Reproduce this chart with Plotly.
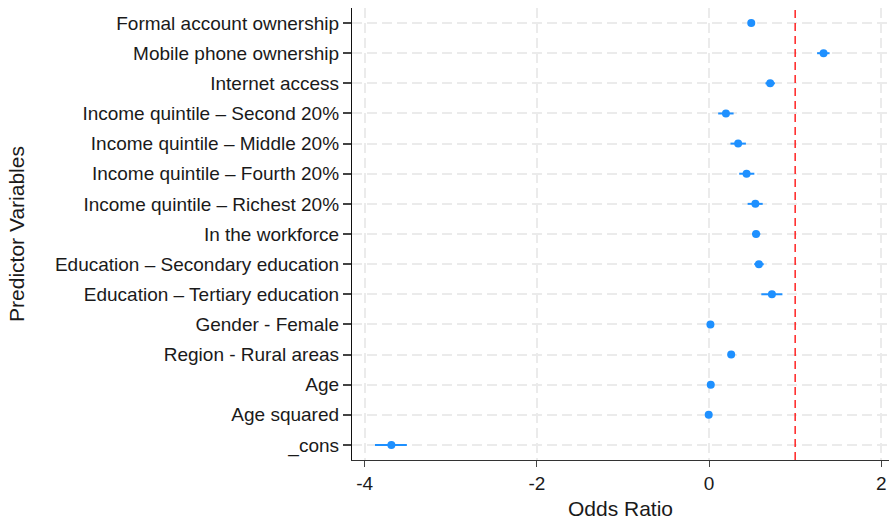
import plotly.graph_objects as go

variables = [
    "Formal account ownership",
    "Mobile phone ownership",
    "Internet access",
    "Income quintile – Second 20%",
    "Income quintile – Middle 20%",
    "Income quintile – Fourth 20%",
    "Income quintile – Richest 20%",
    "In the workforce",
    "Education – Secondary education",
    "Education – Tertiary education",
    "Gender - Female",
    "Region - Rural areas",
    "Age",
    "Age squared",
    "_cons",
]
estimate = [0.49, 1.33, 0.71, 0.196, 0.338, 0.436, 0.538, 0.546, 0.579, 0.73, 0.016, 0.257, 0.02, -0.004, -3.69]
ci_low = [0.46, 1.255, 0.655, 0.106, 0.249, 0.35, 0.448, 0.50, 0.525, 0.607, 0.0, 0.227, 0.012, -0.008, -3.88]
ci_high = [0.52, 1.40, 0.765, 0.285, 0.428, 0.526, 0.623, 0.595, 0.635, 0.852, 0.032, 0.287, 0.028, 0.0, -3.51]
x_ticks = [-4, -2, 0, 2]
ref_line = 1

err_plus = [h - e for h, e in zip(ci_high, estimate)]
err_minus = [e - l for e, l in zip(estimate, ci_low)]

blue = "#1E90FF"
font_family = "Liberation Sans, Arial, sans-serif"

fig = go.Figure()
fig.add_trace(go.Scatter(
    x=estimate,
    y=variables,
    mode="markers",
    marker=dict(color=blue, size=8),
    error_x=dict(type="data", array=err_plus, arrayminus=err_minus,
                 color=blue, thickness=2, width=0),
    showlegend=False,
))

fig.add_shape(type="line", xref="x", yref="paper", x0=ref_line, x1=ref_line,
              y0=0, y1=1, line=dict(color="red", width=1.3, dash="8px,5px"))

grid_dash = "10px,5px"
fig.update_layout(
    width=889, height=521,
    margin=dict(l=352, r=0, t=8, b=61),
    paper_bgcolor="white", plot_bgcolor="white",
    font=dict(family=font_family, color="#1a1a1a", size=19),
    xaxis=dict(
        range=[-4.147, 2.09],
        tickvals=x_ticks,
        ticktext=[str(v) for v in x_ticks],
        showgrid=True, gridcolor="#ebebeb", gridwidth=1.5, griddash=grid_dash,
        zeroline=False,
        showline=True, linecolor="#333333", linewidth=1.3,
        ticks="outside", ticklen=6, tickcolor="#444444", tickwidth=1.3,
        tickfont=dict(size=19, color="#1a1a1a"),
        title=dict(text="Odds Ratio", font=dict(size=21, color="#1a1a1a"), standoff=8),
    ),
    yaxis=dict(
        type="category",
        categoryorder="array", categoryarray=variables,
        range=[len(variables) - 0.5, -0.5],
        showgrid=True, gridcolor="#ebebeb", gridwidth=1.5, griddash=grid_dash,
        zeroline=False,
        showline=True, linecolor="#111111", linewidth=1.3,
        ticks="outside", ticklen=8, tickcolor="#444444", tickwidth=1.5,
        tickfont=dict(size=19, color="#1a1a1a"),
        title=dict(text="Predictor Variables", font=dict(size=21, color="#1a1a1a"), standoff=24),
    ),
)

fig.write_html(
    "out.html",
    config={"displayModeBar": False},
    post_script="document.body.style.margin='0';document.body.style.overflow='hidden';",
)
